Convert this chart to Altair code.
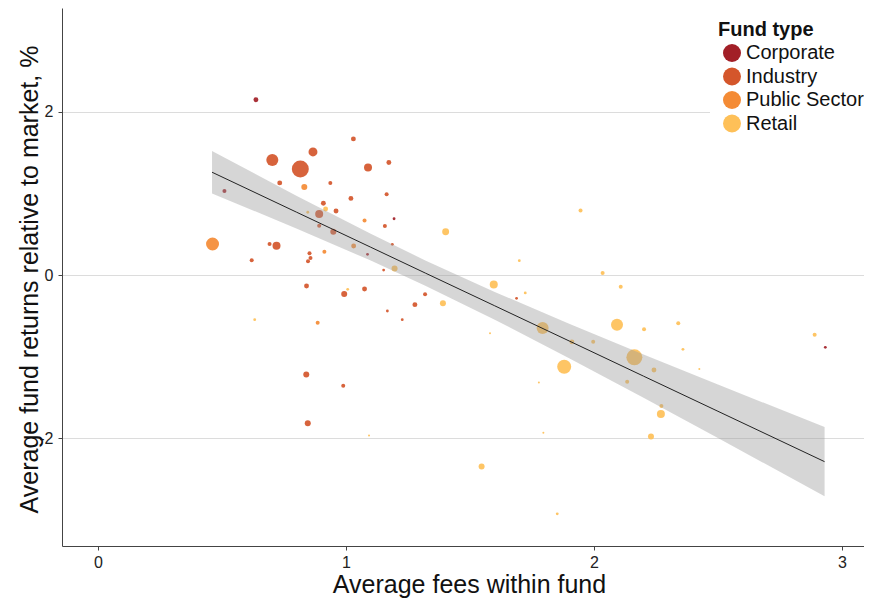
import altair as alt
import pandas as pd

# ---- data ----
fees = [0.637, 0.51, 0.462, 0.703, 0.816, 0.867, 1.03, 1.089, 1.173, 0.733,
        0.832, 0.937, 1.02, 1.164, 0.909, 0.918, 0.846, 0.892, 0.96, 1.194,
        1.075, 1.157, 0.892, 0.949, 0.692, 0.72, 1.031, 1.187, 0.913, 0.853,
        0.857, 0.847, 0.62, 1.087, 1.196, 1.152, 0.841, 1.007, 0.993, 1.075,
        1.319, 1.278, 1.391, 1.167, 1.227, 0.632, 0.886, 0.84, 0.989, 0.846,
        1.093, 1.402, 1.946, 1.699, 2.035, 1.596, 2.108, 1.688, 1.723, 1.793,
        2.093, 2.202, 2.34, 1.581, 1.911, 1.997, 2.163, 1.88, 2.242, 2.134,
        1.778, 2.272, 2.27, 1.796, 2.23, 1.547, 1.852, 2.359, 2.425, 2.89,
        2.933]
returns = [2.15, 1.03, 0.38, 1.41, 1.30, 1.51, 1.67, 1.32, 1.38, 1.13,
           1.08, 1.13, 0.94, 0.99, 0.88, 0.81, 0.77, 0.75, 0.785, 0.69,
           0.67, 0.60, 0.605, 0.53, 0.38, 0.36, 0.356, 0.376, 0.286, 0.266,
           0.21, 0.168, 0.18, 0.254, 0.08, 0.06, -0.135, -0.176, -0.233, -0.172,
           -0.237, -0.364, -0.348, -0.442, -0.548, -0.548, -0.585, -1.22, -1.36, -1.82,
           -1.97, 0.53, 0.79, 0.176, 0.025, -0.115, -0.143, -0.286, -0.22, -0.65,
           -0.61, -0.667, -0.593, -0.716, -0.82, -0.82, -1.01, -1.125, -1.166, -1.31,
           -1.32, -1.607, -1.706, -1.935, -1.98, -2.35, -2.93, -0.912, -1.153, -0.732,
           -0.887]
type_codes = ["C", "C", "P", "I", "I", "I", "I", "I", "I", "I",
              "P", "I", "I", "I", "I", "R", "R", "I", "I", "C",
              "P", "I", "I", "I", "I", "I", "P", "I", "P", "I",
              "I", "I", "I", "C", "R", "I", "I", "R", "I", "I",
              "I", "I", "R", "I", "I", "R", "P", "I", "I", "I",
              "R", "R", "R", "R", "R", "R", "R", "I", "R", "R",
              "R", "R", "R", "R", "R", "R", "R", "R", "R", "R",
              "R", "R", "R", "R", "R", "R", "R", "R", "R", "R",
              "C"]
fund_assets = [6, 4, 42, 36, 72, 20, 6, 16, 6, 6,
               9, 4, 6, 4, 6, 6, 2, 16, 6, 2,
               4, 4, 4, 9, 4, 16, 6, 2, 4, 4,
               4, 4, 4, 2, 9, 2, 6, 2, 9, 6,
               4, 6, 9, 2, 2, 2, 4, 9, 4, 9,
               1, 12, 4, 2, 4, 16, 4, 2, 2, 36,
               36, 4, 4, 1, 6, 4, 64, 49, 6, 4,
               1, 4, 16, 1, 9, 9, 2, 2, 1, 4,
               2]

type_names = {"C": "Corporate", "I": "Industry", "P": "Public Sector", "R": "Retail"}
categories = ["Corporate", "Industry", "Public Sector", "Retail"]
palette = ["#A21F27", "#D4562B", "#F48B35", "#FEC058"]

# fitted line with confidence band
fit_x = [0.46, 0.8, 1.1, 1.32, 1.6, 1.9, 2.2, 2.5, 2.93]
fit_y = [1.261, 0.772, 0.341, 0.024, -0.378, -0.809, -1.241, -1.672, -2.290]
fit_lo = [1.000, 0.572, 0.177, -0.131, -0.548, -1.020, -1.507, -2.000, -2.714]
fit_hi = [1.522, 0.972, 0.505, 0.179, -0.208, -0.598, -0.975, -1.344, -1.866]

x_ticks = [0, 1, 2, 3]
y_ticks = [-2, 0, 2]

pts = pd.DataFrame({
    "fees": fees,
    "returns": returns,
    "type": [type_names[c] for c in type_codes],
    "assets": fund_assets,
})
fit = pd.DataFrame({"x": fit_x, "y": fit_y, "lo": fit_lo, "hi": fit_hi})

FONT = "Liberation Sans"
xscale = alt.Scale(domain=[-0.145, 3.089], nice=False, zero=False)
yscale = alt.Scale(domain=[-3.325, 3.276], nice=False, zero=False)
label_expr = "datum.value < 0 ? '-' + abs(datum.value) : '' + datum.value"

points = alt.Chart(pts).mark_circle(opacity=0.92, strokeWidth=0).encode(
    x=alt.X("fees:Q", scale=xscale,
            axis=alt.Axis(title="Average fees within fund", values=x_ticks, grid=False,
                          tickSize=4, labelPadding=4, labelExpr=label_expr,
                          titleX=407, titleY=46, titleBaseline="alphabetic",
                          titleAlign="center")),
    y=alt.Y("returns:Q", scale=yscale,
            axis=alt.Axis(title="Average fund returns relative to market, %", values=y_ticks,
                          grid=True, tickSize=4, labelPadding=5, labelExpr=label_expr,
                          titleX=-25, titleY=271, titleBaseline="alphabetic",
                          titleAlign="center", titleAngle=270)),
    color=alt.Color("type:N", scale=alt.Scale(domain=categories, range=palette),
                    legend=alt.Legend(title="Fund type", orient="none",
                                      legendX=648, legendY=4)),
    size=alt.Size("assets:Q", scale=alt.Scale(domain=[0, 100], range=[0, 400]), legend=None),
)

band = alt.Chart(fit).mark_area(color="#999999", opacity=0.4).encode(
    x=alt.X("x:Q", scale=xscale), y=alt.Y("lo:Q", scale=yscale), y2="hi:Q"
)
line = alt.Chart(fit).mark_line(color="#222222", strokeWidth=1).encode(
    x=alt.X("x:Q", scale=xscale), y=alt.Y("y:Q", scale=yscale)
)

chart = alt.layer(points, band, line).properties(
    width=802, height=538,
    autosize=alt.AutoSizeParams(type="none"),
    padding={"left": 54, "top": 0, "right": 0, "bottom": 53},
).configure_view(stroke=None).configure_axis(
    labelFont=FONT, titleFont=FONT, labelFontSize=16, titleFontSize=25,
    labelColor="#222222", titleColor="#111111", titleFontWeight="normal",
    domainColor="#444444", tickColor="#444444", domainWidth=1,
    gridColor="#DCDCDC", gridWidth=1,
).configure_legend(
    titleFont=FONT, labelFont=FONT, titleFontSize=20, labelFontSize=20,
    titleFontWeight="bold", titleColor="#111111", labelColor="#111111",
    symbolType="circle", symbolSize=324, symbolStrokeWidth=0, symbolOpacity=1,
    symbolOffset=4, labelOffset=4, rowPadding=3.5, titlePadding=3,
    padding=8, fillColor="white",
)

chart.save("out.html", embed_options={"renderer": "svg", "actions": False})
